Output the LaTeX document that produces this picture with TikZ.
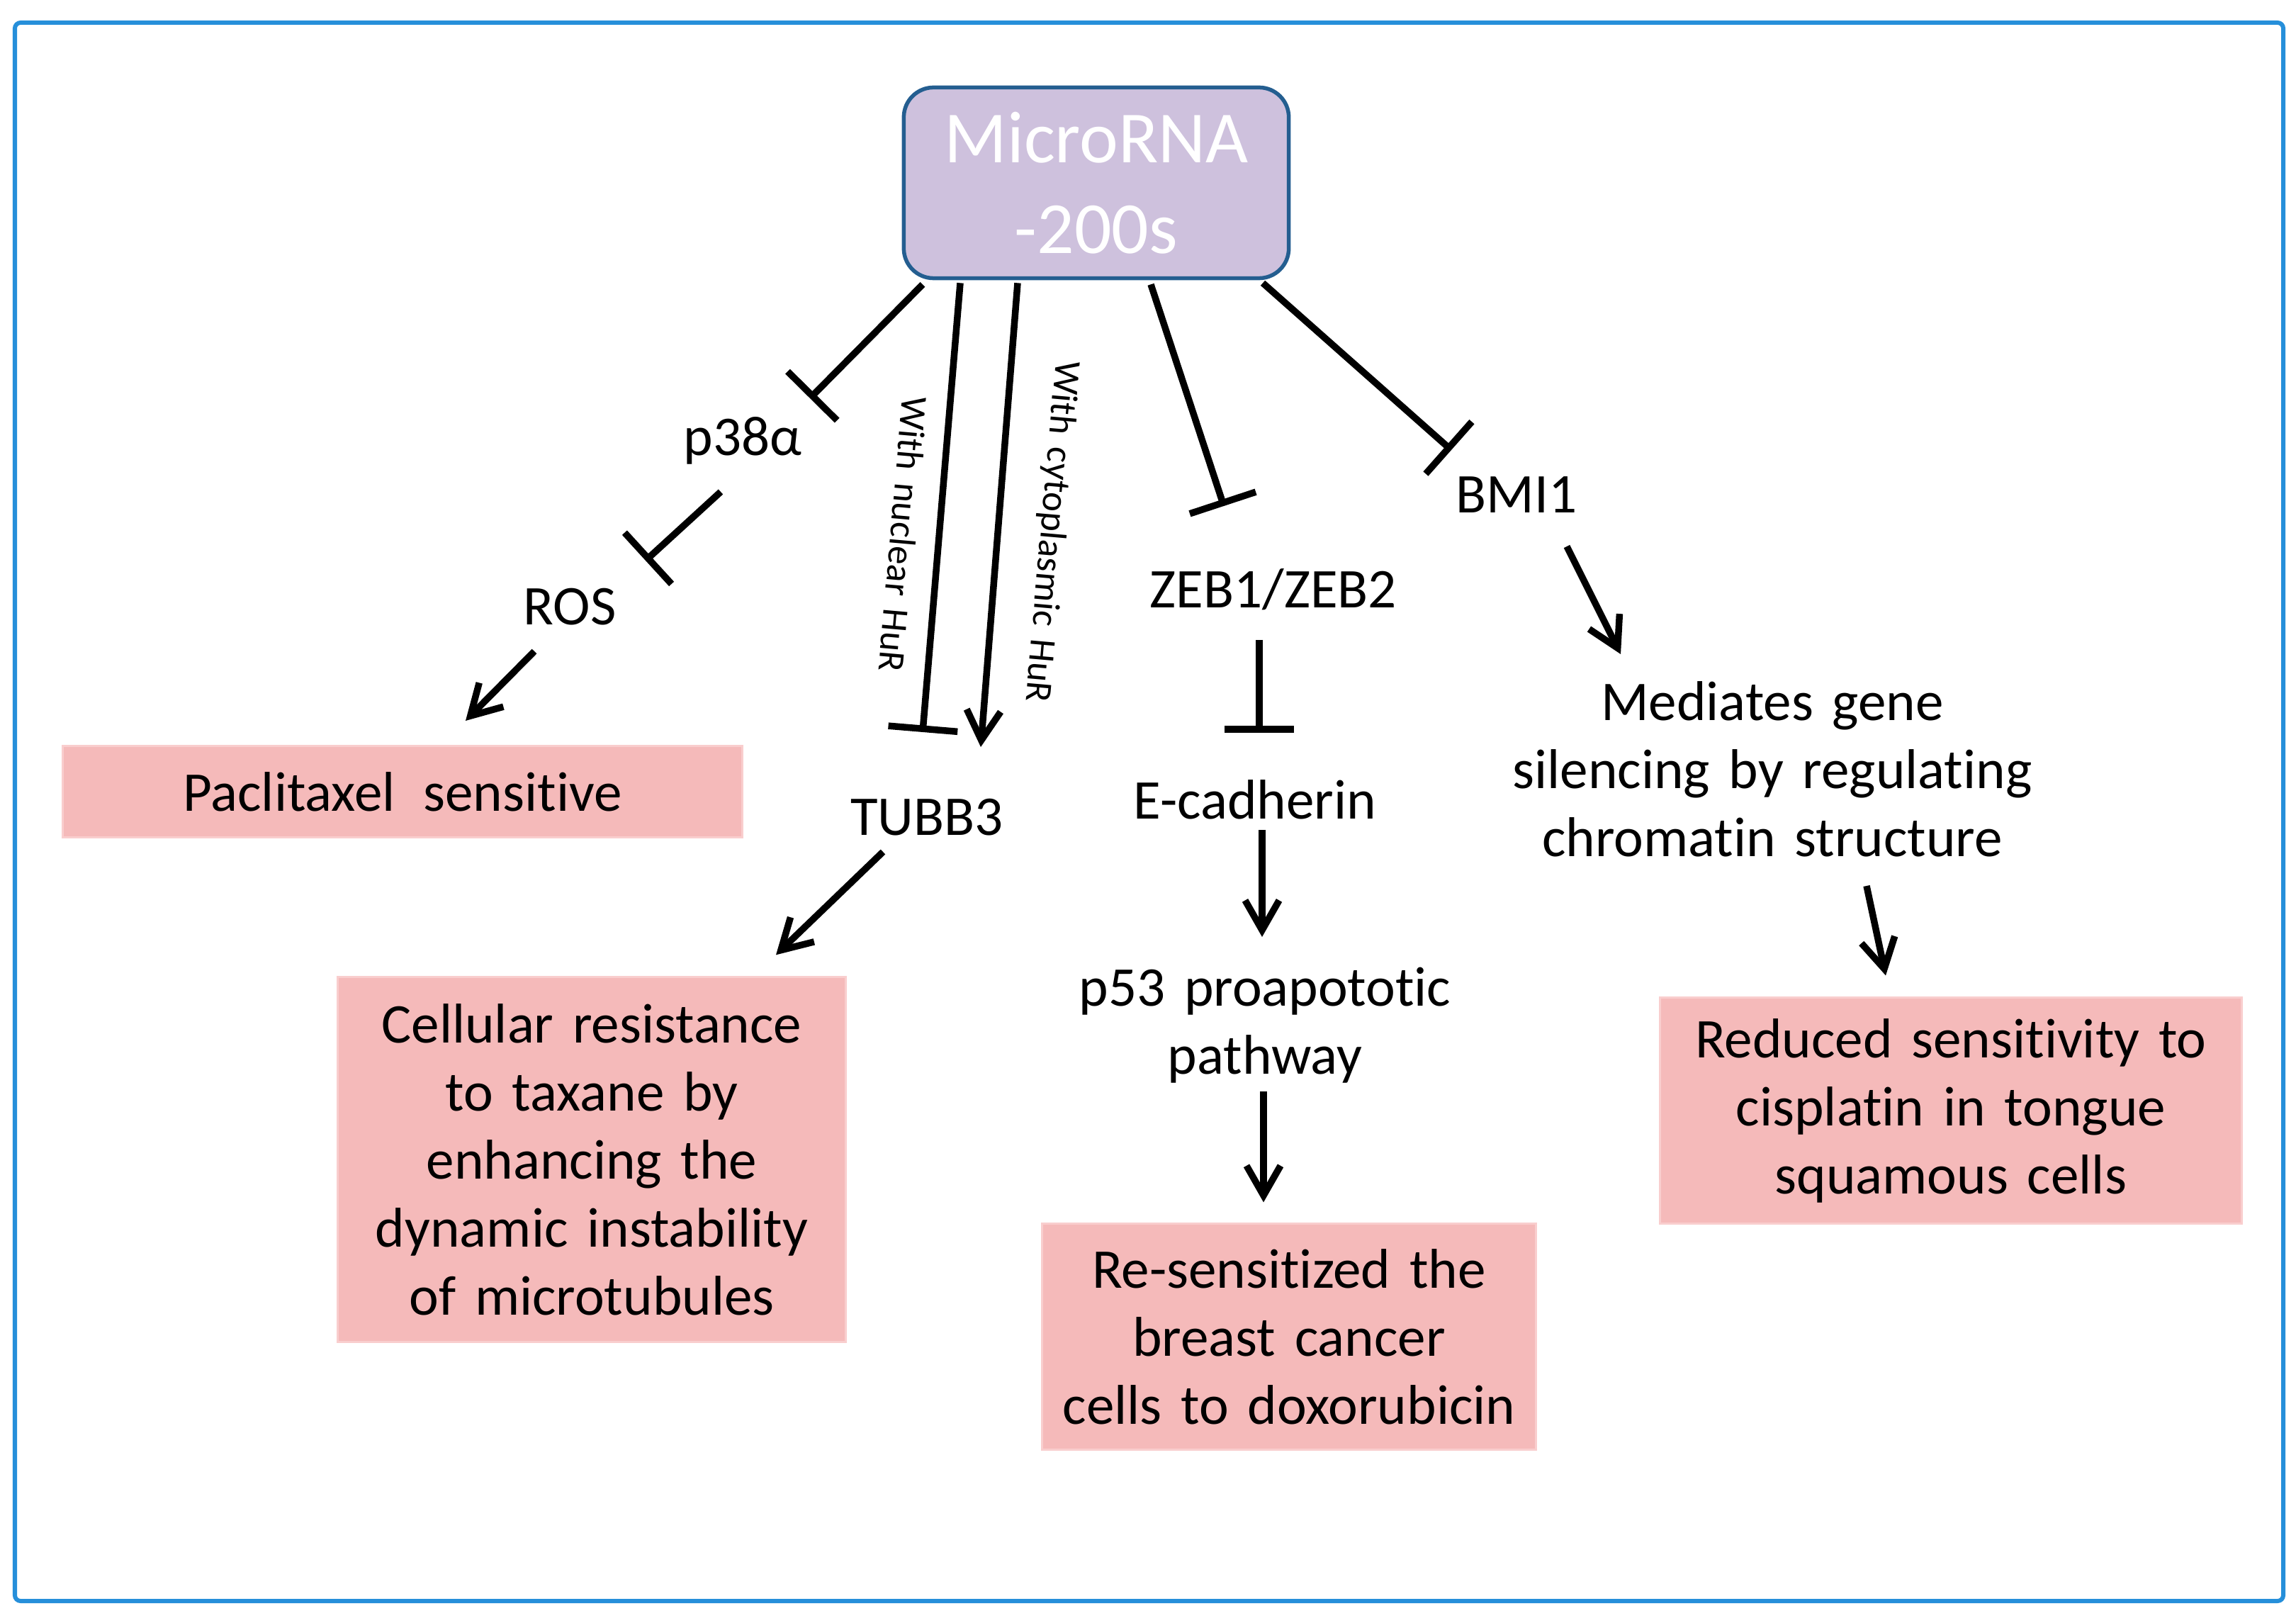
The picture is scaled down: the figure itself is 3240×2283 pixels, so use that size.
\documentclass[tikz,border=0pt]{standalone}
\usepackage{fontspec}
\setmainfont{Carlito}[WordSpace=1.5,RawFeature={-liga;-clig;-calt;-dlig;-rlig}]
\usetikzlibrary{arrows.meta,calc,positioning}
\definecolor{framecol}{RGB}{38,143,218}
\definecolor{mirfill}{RGB}{206,193,221}
\definecolor{miredge}{RGB}{36,94,144}
\definecolor{outfill}{RGB}{245,186,186}
\definecolor{outedge}{RGB}{249,206,206}
\tikzset{
  gene/.style={inner sep=0pt,align=center,font=\fontsize{22.5}{27.3}\selectfont},
  mirbox/.style={rounded corners=0.42cm,draw=miredge,fill=mirfill,line width=0.55mm,
                 minimum width=5.43cm,minimum height=2.69cm,align=center,text=white,
                 font=\fontsize{29.5}{36.4}\selectfont},
  outcome/.style={gene,draw=outedge,fill=outfill,line width=0.3mm},
  hurtxt/.style={inner sep=0pt,font=\fontsize{15}{18}\selectfont},
  act/.style={-{Straight Barb[length=4.2mm,width=4.8mm]},line width=0.95mm},
  inh/.style={-{Bar[width=9.8mm]},line width=0.95mm},
  frame/.style={draw=framecol,line width=0.6mm,rounded corners=0.08cm},
}

\begin{document}
\begin{tikzpicture}[x=0.01cm,y=-0.01cm]
  \useasboundingbox (0,0) rectangle (3240,2283);
  \draw[frame] (21,32) rectangle (3222,2259);
  % --- microRNA and its targets
  \node[mirbox] (mir) at (1547,258) {MicroRNA\\-200s};
  \node[gene,anchor=base] (p38) at (1048,643) {p38α};
  \node[gene,anchor=base] (ros) at (804,882) {ROS};
  \node[gene,anchor=base] (tubb) at (1308,1178) {TUBB3};
  \node[gene,anchor=base] (zeb) at (1797,858) {ZEB1/ZEB2};
  \node[gene,anchor=base] (bmi) at (2140,724) {BMI1};
  \node[gene,anchor=base] (ecad) at (1771,1155) {E-cadherin};
  \node[gene] (p53) at (1785,1447) {p53 proapototic\\pathway};
  \node[gene] (silence) at (2501,1085) {Mediates gene\\silencing by regulating\\chromatin structure};
  \node[hurtxt,rotate=-95] (nuc) at (1275,754) {With nuclear HuR};
  \node[hurtxt,rotate=-95] (cyto) at (1483,750) {With cytoplasmic HuR};
  % --- outcomes
  \node[outcome,minimum width=9.59cm,minimum height=1.29cm] (pacl) at (568,1117)
    {Paclitaxel\,\ sensitive};
  \node[outcome,minimum width=7.16cm,minimum height=5.14cm] (taxane) at (835,1636)
    {Cellular resistance\\to taxane by\\enhancing the\\dynamic instability\\of microtubules};
  \node[outcome,minimum width=6.96cm,minimum height=3.18cm] (doxo) at (1819,1886)
    {Re-sensitized the\\breast cancer\\cells to doxorubicin};
  \node[outcome,minimum width=8.2cm,minimum height=3.18cm] (cispl) at (2753,1567)
    {Reduced sensitivity to\\cisplatin in tongue\\squamous cells};
  % --- connectors
  \draw[inh] ($(mir.south)+(-245,6)$) -- ($(p38.base)+(95,-81)$);
  \draw[inh] ($(mir.south)+(-192,4)$) -- ($(tubb.base)+(-6,-145)$);
  \draw[act] ($(mir.south)+(-111,4)$) -- ($(tubb.base)+(76,-124)$);
  \draw[inh] ($(mir.south)+(77,6)$) -- ($(zeb.base)+(-70,-144)$);
  \draw[inh] ($(mir.south)+(235,4)$) -- ($(bmi.base)+(-92,-89)$);
  \draw[inh] ($(p38.base)+(-31,51)$) -- ($(ros.base)+(107,-91)$);
  \draw[act] ($(ros.base)+(-50,37)$) -- ($(pacl.north)+(89,-34)$);
  \draw[act] ($(tubb.base)+(-62,24)$) -- ($(taxane.north)+(260,-30)$);
  \draw[inh] ($(zeb.base)+(-20,45)$) -- ($(ecad.base)+(6,-121)$);
  \draw[act] ($(ecad.base)+(10,16)$) -- ($(p53.center)+(-4,-125)$);
  \draw[act] ($(p53.center)+(-2,93)$) -- ($(doxo.north)+(-36,-29)$);
  \draw[act] ($(bmi.base)+(71,47)$) -- ($(silence.center)+(-214,-162)$);
  \draw[act] ($(silence.center)+(133,165)$) -- ($(cispl.north)+(-92,-30)$);
\end{tikzpicture}
\end{document}
